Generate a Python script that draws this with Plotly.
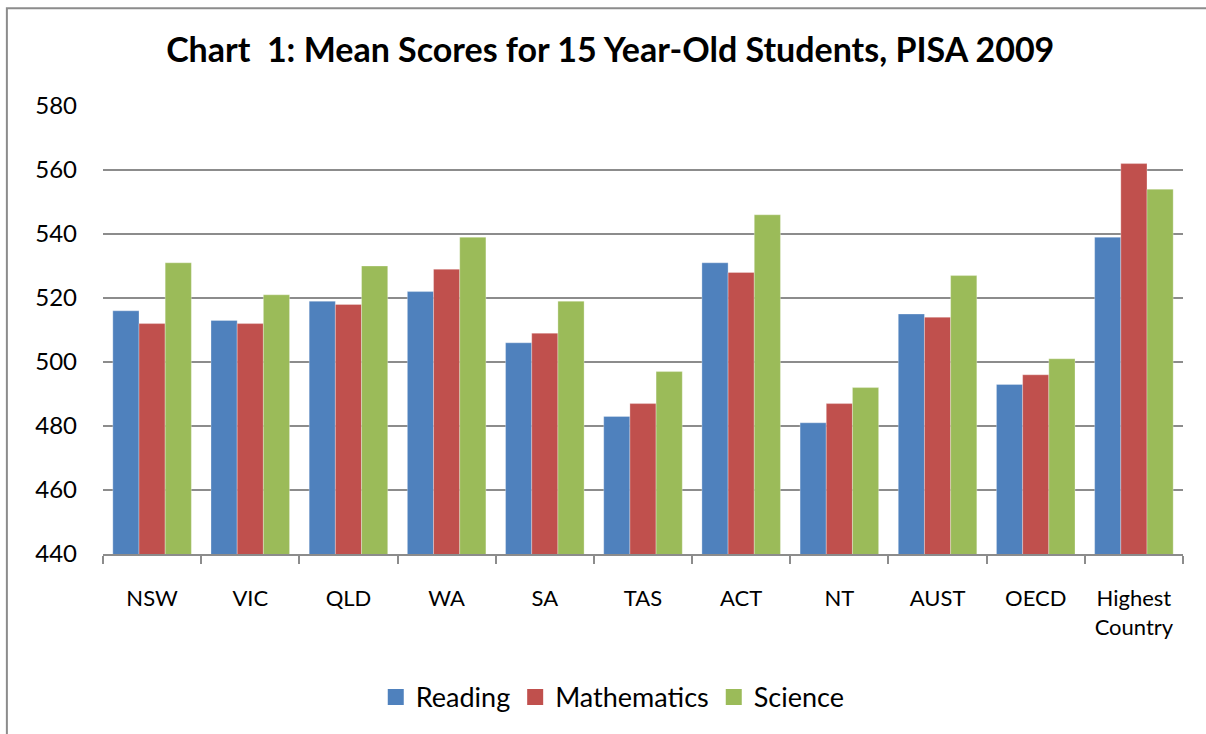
import plotly.graph_objects as go

categories = ["NSW", "VIC", "QLD", "WA", "SA", "TAS", "ACT", "NT", "AUST", "OECD", "Highest<br>Country"]
reading = [516, 513, 519, 522, 506, 483, 531, 481, 515, 493, 539]
mathematics = [512, 512, 518, 529, 509, 487, 528, 487, 514, 496, 562]
science = [531, 521, 530, 539, 519, 497, 546, 492, 527, 501, 554]
y_ticks = [440, 460, 480, 500, 520, 540, 560, 580]

font_name = "Lato, Open Sans, sans-serif"

fig = go.Figure()
series = [("Reading", reading, "#4F81BD"),
          ("Mathematics", mathematics, "#C0504D"),
          ("Science", science, "#9BBB59")]
for name, vals, col in series:
    fig.add_trace(go.Bar(
        x=categories, y=vals, name=name, showlegend=False,
        marker=dict(color=col, line=dict(color="rgba(255,255,255,0.6)", width=0.5)),
        base=0,
    ))
# legend entries with bigger square swatches
for name, vals, col in series:
    fig.add_trace(go.Scatter(
        x=[None], y=[None], name=name, mode="markers",
        marker=dict(symbol="square", size=17, color=col),
    ))

# chart frame like the Excel border
fig.add_shape(type="rect", xref="paper", yref="paper",
              x0=-0.089, x1=1.3, y0=-0.8, y1=1.218,
              line=dict(color="#8c8c8c", width=2), layer="below")

fig.update_layout(
    width=1206, height=734,
    plot_bgcolor="white", paper_bgcolor="white",
    margin=dict(l=103, r=23, t=106, b=178),
    barmode="group", bargap=0.2, bargroupgap=0,
    font=dict(family=font_name, color="#000000", size=20),
    title=dict(text="<b>Chart \u00a01: Mean Scores for 15 Year-Old Students, PISA 2009</b>",
               x=0.506, xanchor="center", y=0.932, yanchor="middle",
               font=dict(size=34, family=font_name)),
    legend=dict(orientation="h", x=0.472, xanchor="center", y=-0.32, yanchor="middle",
                font=dict(size=27), traceorder="normal", itemwidth=30),
    showlegend=True,
)

fig.update_xaxes(showline=True, linecolor="#8c8c8c", linewidth=2,
                 ticks="outside", tickson="boundaries", ticklen=8,
                 tickcolor="#8c8c8c", tickwidth=2,
                 ticklabelstandoff=24, tickfont=dict(size=22))
fig.update_yaxes(range=[440, 580], tickvals=y_ticks, showgrid=True,
                 gridcolor="#8c8c8c", gridwidth=1.5, zeroline=False,
                 showline=False, ticks="", ticklabelstandoff=25,
                 tickfont=dict(size=24))

fig.write_html("out.html", config={"displayModeBar": False},
               post_script="document.body.style.margin='0';")
